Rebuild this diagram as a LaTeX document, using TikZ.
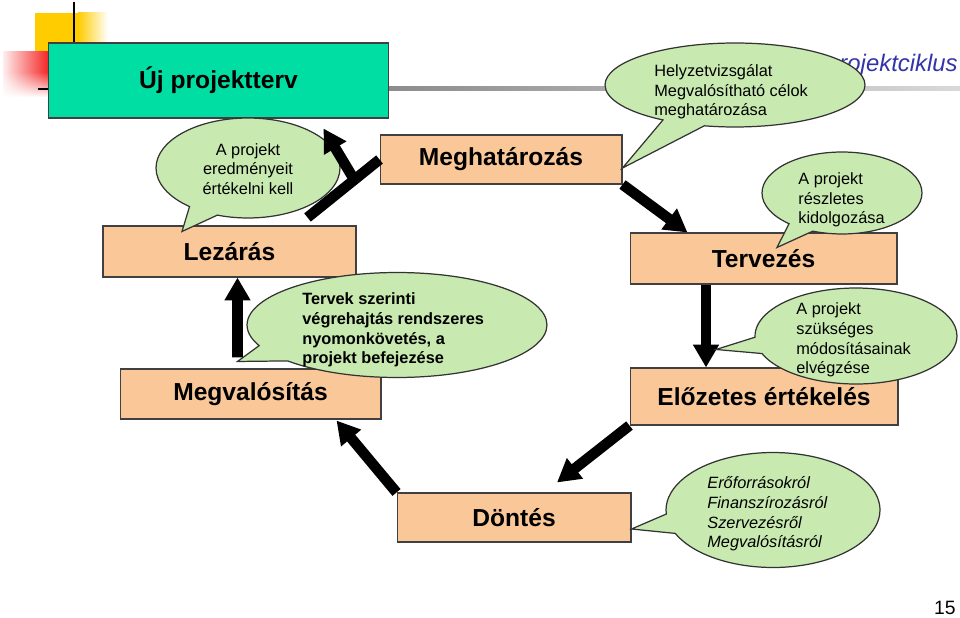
\documentclass[tikz,border=0pt]{standalone}
\usepackage{fontspec}
\setmainfont{Liberation Sans}
\usetikzlibrary{arrows.meta,calc,shapes.callouts,fadings}
\definecolor{mint}{RGB}{0,222,164}
\definecolor{peach}{RGB}{250,200,152}
\definecolor{leaf}{RGB}{200,234,176}
\definecolor{decoyellow}{RGB}{255,204,0}
\definecolor{decored}{RGB}{245,40,40}
\definecolor{titleblue}{RGB}{51,51,170}
\tikzset{
    box/.style={draw=black!75, line width=0.6pt, fill=peach, inner sep=0pt,
            font=\fontsize{14}{16}\selectfont\bfseries},
    bubble/.style={ellipse callout, draw=black!80, line width=0.7pt, fill=leaf,
            inner sep=0pt, callout pointer arc=20},
    bubtext/.style={anchor=west, inner sep=0pt, align=left,
            font=\fontsize{9.3}{11.2}\selectfont},
    flow/.style={line width=6pt, -{Triangle[length=13pt,width=14pt]}},
}

\begin{document}
\begin{tikzpicture}[x=0.02cm,y=-0.02cm]
        \useasboundingbox (0,0) rectangle (960,618);
        %corner decoration
        \fill[decoyellow] (35,13) rectangle (78,52);
        \shade[left color=decoyellow, right color=white] (78,13) rectangle (108,52);
        \shade[left color=decored!8, right color=decored] (3,52) rectangle (48,97);
        \fill[white, path fading=north] (3,72) rectangle (48,97);
        \draw[line width=1.7pt] (74,2) -- (74,43);
        \draw[line width=1.7pt] (38,89) -- (48,89);
        %grey rule and title
        \shade[left color=black!45, right color=black!15] (389,87) rectangle (960,91);
        \node[anchor=base east, inner sep=0pt, text=titleblue,
            font=\fontsize{13.6}{16}\selectfont\itshape] (title) at (958,72) {projektciklus};
        %phase boxes
        \node[box, fill=mint, minimum width=6.82cm, minimum height=1.5cm] (ujterv) at (218.5,80.5) {Új projektterv};
        \node[box, minimum width=4.84cm, minimum height=0.98cm] (megh) at (501,159.5) {Meghatározás};
        \node[box, minimum width=5.06cm, minimum height=1.02cm] (lezaras) at (229.5,251.5) {Lezárás};
        \node[box, minimum width=5.34cm, minimum height=1.02cm] (terv) at (763.5,258.5) {Tervezés};
        \node[box, minimum width=5.22cm, minimum height=1cm] (megval) at (250.5,394) {Megvalósítás};
        \node[box, minimum width=5.36cm, minimum height=1.14cm] (eloz) at (764,396.5) {Előzetes értékelés};
        \node[box, minimum width=4.68cm, minimum height=0.98cm] (dontes) at (514,517.5) {Döntés};
        %arrows of the cycle
        \draw[flow] (megh.south east) -- ($(terv.north west)+(58,0)$);
        \draw[flow] ($(terv.south)+(-57.5,0)$) -- ($(eloz.north)+(-58,0)$);
        \draw[flow] (eloz.south west) -- ($(dontes.north)+(43,-10)$);
        \draw[flow] (dontes.north west) -- ($(megval.south east)+(-45,1)$);
        \draw[flow] ($(megval.north west)+(118,-11)$) -- ($(lezaras.south west)+(135,0)$);
        %speech bubbles
        \node[bubble, minimum width=3.68cm, minimum height=2cm,
            callout absolute pointer={($(lezaras.north)+(-47.5,6)$)}] (eredmeny) at (248,168) {};
        \node[bubtext, anchor=center, align=center] (eredmeny-t) at (248,169)
            {A projekt\\eredményeit\\értékelni kell};
        \node[bubble, minimum width=5.2cm, minimum height=1.68cm,
            callout absolute pointer={($(megh.east)+(0,8.5)$)}] (helyzet) at (735,85) {};
        \node[bubtext] (helyzet-t) at (654,92)
            {Helyzetvizsgálat\\Megvalósítható célok\\meghatározása};
        \node[bubble, minimum width=3.2cm, minimum height=1.64cm,
            callout absolute pointer={($(terv.north)+(13.5,15)$)}] (reszlet) at (842,193) {};
        \node[bubtext] (reszlet-t) at (798,200)
            {A projekt\\részletes\\kidolgozása};
        \node[bubble, minimum width=4.04cm, minimum height=1.92cm,
            callout absolute pointer={($(eloz.north)+(-48,-18)$)}] (modosit) at (856,336) {};
        \node[bubtext] (modosit-t) at (796,340)
            {A projekt\\szükséges\\módosításainak\\elvégzése};
        \node[bubble, minimum width=4.28cm, minimum height=2.3cm,
            callout absolute pointer={($(dontes.east)+(0,11.5)$)}] (forras) at (773,510) {};
        \node[bubtext, font=\fontsize{9.3}{11.2}\selectfont\itshape] (forras-t) at (707,514)
            {Erőforrásokról\\Finanszírozásról\\Szervezésről\\Megvalósításról};
        \node[bubble, minimum width=6cm, minimum height=2.1cm,
            callout absolute pointer={($(megval.north west)+(118,-7)$)}] (kovetes) at (397,325) {};
        \node[bubtext, font=\fontsize{9.3}{11.2}\selectfont\bfseries] (kovetes-t) at (302,330)
            {Tervek szerinti\\végrehajtás rendszeres\\nyomonkövetés, a\\projekt befejezése};
        %closing back to the start and to a new plan
        \coordinate (zarto) at ($(lezaras.north east)+(-49,-8)$);
        \draw[line width=6pt] (zarto) -- (megh.west);
        \draw[flow] ($(zarto)!0.65!(megh.west)$) -- ($(ujterv.south east)+(-66,10)$);
        %page number
        \node[anchor=base east, inner sep=0pt, font=\fontsize{11}{13}\selectfont] (oldal) at (956,614) {15};
    \end{tikzpicture}
\end{document}
